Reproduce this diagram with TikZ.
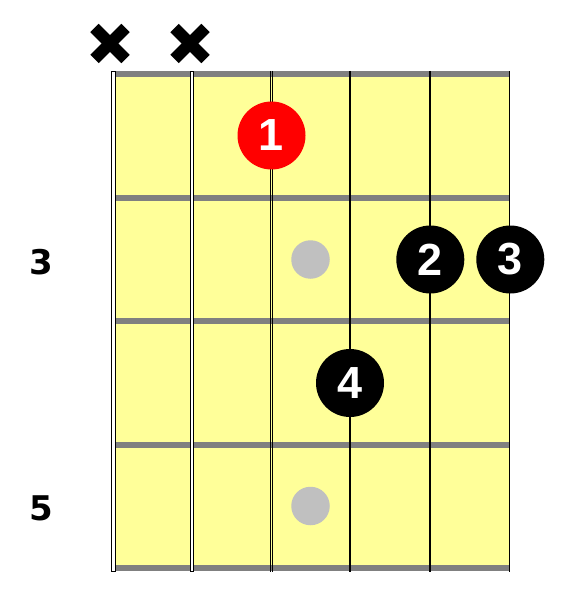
\documentclass[tikz,border=0pt]{standalone}
\usepackage{fontspec}
\setmainfont{Liberation Sans}
\newfontfamily\numfont{DejaVu Sans}
\definecolor{board}{HTML}{FFFF99}
\definecolor{fretgray}{HTML}{808080}
\definecolor{markgray}{HTML}{C0C0C0}
\definecolor{fingerred}{HTML}{FF0000}
\tikzset{
  fret/.style={draw=none,fill=fretgray},
  finger/.style={circle,fill=black,minimum size=68pt,inner sep=0pt,text=white,font=\fontsize{45}{45}\selectfont\bfseries},
  rootfinger/.style={finger,fill=fingerred},
  inlay/.style={circle,fill=markgray,minimum size=38.5pt,inner sep=0pt},
  mute/.style={line width=12pt,line cap=butt},
  fretnum/.style={font=\numfont\fontsize{34}{34}\selectfont\bfseries,text=black},
  thinstring/.style={line width=1.3pt,draw=black}
}
\begin{document}
\begin{tikzpicture}[x=1pt,y=-1pt]
\useasboundingbox (0,0) rectangle (578,596);
% board
\fill[board] (113,71) rectangle (510,571);
% frets
\foreach \y in {74,198,321,445,568}{
  \fill[fret] (113,\y-3) rectangle (510,\y+3);
}
% strings
\draw[black,line width=0.9pt,fill=white] (111.5,71) rectangle (115.5,571.5);
\draw[black,line width=0.9pt,fill=white] (190.5,71) rectangle (193.7,571.5);
\draw[black,line width=0.9pt] (270.3,71) -- (270.3,571.5);
\draw[black,line width=0.9pt] (272.7,71) -- (272.7,571.5);
\draw[thinstring] (350,71) -- (350,571.5);
\draw[thinstring] (430,71) -- (430,571.5);
\draw[thinstring] (509.3,71) -- (509.3,571.5);
% muted strings
\coordinate (m1) at (110,43.5);
\coordinate (m2) at (190,43.5);
\foreach \m in {m1,m2}{
  \draw[mute] ([shift={(-15.5,-15.5)}]\m) -- ([shift={(15.5,15.5)}]\m);
  \draw[mute] ([shift={(-15.5,15.5)}]\m) -- ([shift={(15.5,-15.5)}]\m);
}
% inlays
\node[inlay] (i1) at (310.5,259.5) {};
\node[inlay] (i2) at (310.5,506) {};
% fingers
\node[rootfinger] (f1) at (271.5,135.5) {1};
\node[finger] (f2) at (430.3,259.5) {2};
\node[finger] (f3) at (510.3,259.5) {3};
\node[finger] (f4) at (350,383) {4};
% fret numbers
\node[fretnum] (n3) at (41,262) {3};
\node[fretnum] (n5) at (41,508) {5};
\end{tikzpicture}
\end{document}
